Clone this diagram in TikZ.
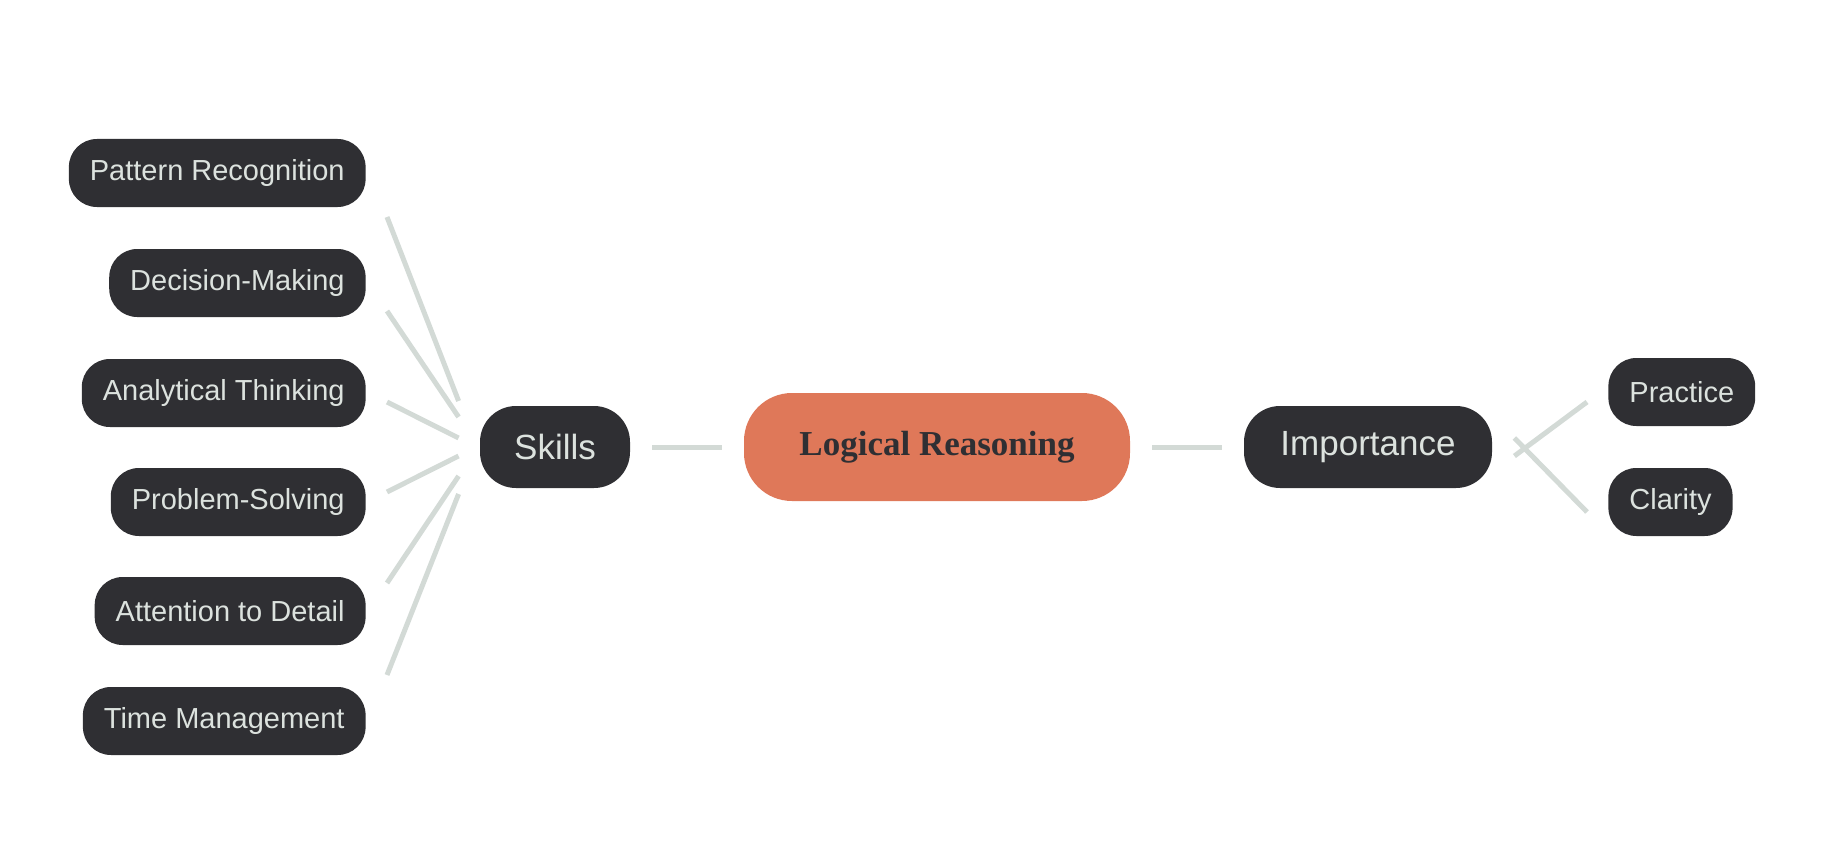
\documentclass[tikz,border=0pt]{standalone}
\usepackage{fontspec}
\setmainfont{Liberation Sans}
\newfontfamily\titlefont{Liberation Serif}
\usetikzlibrary{positioning, calc}

\definecolor{nodedark}{HTML}{2F2F33}
\definecolor{nodetext}{HTML}{DCE2DE}
\definecolor{linkgray}{HTML}{D3DAD6}
\definecolor{rootorange}{HTML}{DF7859}

\begin{document}
\begin{tikzpicture}[
		x=0.5pt, y=-0.5pt,
		leaf/.style={fill=nodedark, text=nodetext, rounded corners=14pt,
			minimum height=34pt, inner xsep=10.5pt, font=\fontsize{14.5}{16}\selectfont, anchor=east},
		branch/.style={fill=nodedark, text=nodetext, rounded corners=18pt,
			minimum height=41pt, inner xsep=15pt, font=\fontsize{17.5}{20}\selectfont},
		root/.style={fill=rootorange, text=nodedark, rounded corners=24pt,
			minimum height=54pt, minimum width=193pt, font=\titlefont\bfseries\fontsize{17.5}{20}\selectfont},
		link/.style={draw=linkgray, line width=2.5pt}
		]
		
		\useasboundingbox (0,0) rectangle (1832,856);
		
		% ==========================================
		% CENTRE AND BRANCHES
		% ==========================================
		\node[root] (logic) at (937,447) {Logical Reasoning};
		\node[branch, minimum width=75pt] (skills) at (555,447) {Skills};
		\node[branch, minimum width=124pt] (importance) at (1368,447) {Importance};
		
		\draw[link] ([xshift=11pt]skills.east) -- ([xshift=-11pt]logic.west);
		\draw[link] ([xshift=11pt]logic.east) -- ([xshift=-11pt]importance.west);
		
		% ==========================================
		% SKILLS LEAVES
		% ==========================================
		\foreach \name/\txt/\y/\ya/\yb in {
			pattern/Pattern Recognition/173/217/401,
			decision/Decision-Making/283/311/417,
			analytic/Analytical Thinking/393/402/438,
			problem/Problem-Solving/502/492/456,
			attention/Attention to Detail/611/583/476,
			timing/Time Management/721/675/494}{
			\node[leaf] (\name) at (366,\y) {\txt};
			\draw[link] ($(\name.east)+(21,\ya-\y)$) -- ($(skills.west)+(-21,\yb-447)$);
		}
		
		% ==========================================
		% IMPORTANCE LEAVES
		% ==========================================
		\node[leaf, anchor=west] (practice) at (1608,392) {Practice};
		\node[leaf, anchor=west] (clarity) at (1608,502) {Clarity};
		
		\draw[link] ([yshift=-4.5pt, xshift=11pt]importance.east) -- ([yshift=-5pt, xshift=-10.5pt]practice.west);
		\draw[link] ([yshift=4.5pt, xshift=11pt]importance.east) -- ([yshift=-5pt, xshift=-10.5pt]clarity.west);
		
	\end{tikzpicture}
\end{document}
